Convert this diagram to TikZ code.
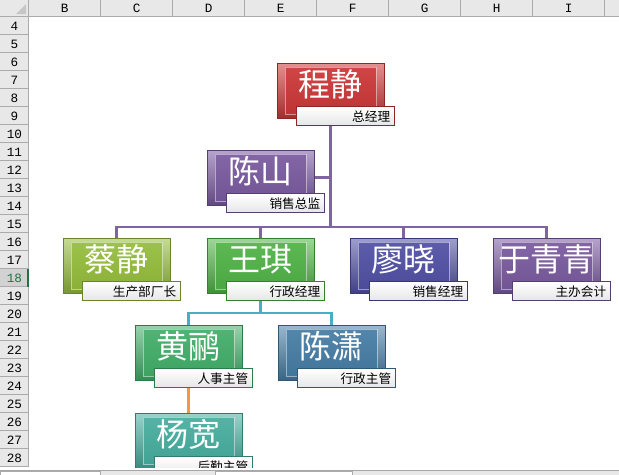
\documentclass[tikz,border=0pt]{standalone}
\usepackage{fontspec}
\newfontfamily\cjk{Noto Sans CJK SC}
\setmonofont{Liberation Mono}
\definecolor{orgred}{RGB}{205,55,55}
\definecolor{orgpurple}{RGB}{122,90,160}
\definecolor{orglime}{RGB}{150,190,60}
\definecolor{orggreen}{RGB}{80,180,70}
\definecolor{orgindigo}{RGB}{80,80,165}
\definecolor{orgemerald}{RGB}{65,175,105}
\definecolor{orgsteel}{RGB}{70,125,165}
\definecolor{orgteal}{RGB}{70,175,160}
\definecolor{linepurple}{RGB}{128,100,162}
\definecolor{linecyan}{RGB}{75,172,198}
\definecolor{lineorange}{RGB}{247,150,70}
\definecolor{xlhead}{RGB}{232,232,232}
\definecolor{xlsel}{RGB}{210,210,210}
\definecolor{xlline}{RGB}{171,171,171}
\definecolor{xlgreen}{RGB}{33,115,70}
\usetikzlibrary{positioning,calc,backgrounds}

\begin{document}
\begin{tikzpicture}[x=0.75pt, y=-0.75pt,
    pbox/.style={draw=#1!70!black, line width=0.6pt, top color=#1!55!white, bottom color=#1!80!black,
        minimum width=80.25pt, minimum height=41.25pt, inner sep=0pt, text=white,
        font=\cjk\fontsize{24}{24}\selectfont, text height=16pt, text depth=7pt,
        path picture={\shade[top color=#1!92!white, bottom color=#1!92!black]
            ([shift={(8,-4)}]path picture bounding box.south west) rectangle
            ([shift={(-8,4)}]path picture bounding box.north east);
          \draw[white, opacity=0.45, line width=0.5pt]
            ([shift={(8,-4)}]path picture bounding box.south west) rectangle
            ([shift={(-8,4)}]path picture bounding box.north east);}},
    ttl/.style={draw=#1!70!black, line width=0.8pt, top color=white, bottom color=black!10,
        minimum width=73.5pt, minimum height=14.25pt, text width=66.5pt, align=right,
        inner xsep=3.5pt, inner ysep=0pt, anchor=north east, font=\cjk\fontsize{9.5}{10}\selectfont},
    conn/.style={draw=#1, line width=2.2pt},
    hdtxt/.style={font=\ttfamily\fontsize{9.5}{10}\selectfont, inner sep=0pt}
]
    \useasboundingbox (0,0) rectangle (619,475);

    \fill[xlhead] (0,0) rectangle (619,16.7);
    \fill[xlhead] (0,16.7) rectangle (28.7,466.7);
    \fill[xlsel] (0,268.7) rectangle (28.7,286.7);
    \fill[gray!45] (16,14) -- (26,14) -- (26,4) -- cycle;
    \foreach \c [count=\i from 0] in {B,C,D,E,F,G,H,I} {
        \node[hdtxt] (col\c) at (64.7+72*\i,8.6) {\c};
        \draw[xlline] (28.7+72*\i,0) -- (28.7+72*\i,16.7);
    }
    \draw[xlline] (604.7,0) -- (604.7,16.7);
    \foreach \r in {4,...,28} {
        \node[hdtxt] (row\r) at (14.5,{25.9+18*(\r-4)}) {\ifnum\r=18 \color{xlgreen}\fi\r};
        \draw[xlline] (0,{34.7+18*(\r-4)}) -- (28.7,{34.7+18*(\r-4)});
    }
    \draw[xlline] (0,16.7) -- (619,16.7);
    \draw[xlline] (28.7,16.7) -- (28.7,466.7);
    \fill[xlgreen] (27,268.7) rectangle (28.7,286.7);

    \node[pbox=orgred] (chengj) at (330.5,90.5) {程静};
    \node[ttl=orgred] (chengjt) at ([shift={(11,-12)}]chengj.south east) {总经理};
    \node[pbox=orgpurple] (chens) at (260.5,177.5) {陈山};
    \node[ttl=orgpurple] (chenst) at ([shift={(11,-12)}]chens.south east) {销售总监};

    \node[pbox=orglime] (caij) at (116.5,265.5) {蔡静};
    \node[ttl=orglime] (caijt) at ([shift={(11,-12)}]caij.south east) {生产部厂长};
    \node[pbox=orggreen] (wangq) at (260.5,265.5) {王琪};
    \node[ttl=orggreen] (wangqt) at ([shift={(11,-12)}]wangq.south east) {行政经理};
    \node[pbox=orgindigo] (liaox) at (403.5,265.5) {廖晓};
    \node[ttl=orgindigo] (liaoxt) at ([shift={(11,-12)}]liaox.south east) {销售经理};
    \node[pbox=orgpurple] (yuqq) at (546.5,265.5) {于青青};
    \node[ttl=orgpurple] (yuqqt) at ([shift={(11,-12)}]yuqq.south east) {主办会计};

    \node[pbox=orgemerald] (huangl) at (188.5,352.5) {黄鹂};
    \node[ttl=orgemerald] (huanglt) at ([shift={(11,-12)}]huangl.south east) {人事主管};
    \node[pbox=orgsteel] (chenx) at (331.5,352.5) {陈潇};
    \node[ttl=orgsteel] (chenxt) at ([shift={(11,-12)}]chenx.south east) {行政主管};

    \node[pbox=orgteal] (yangk) at (188.5,440.5) {杨宽};
    \node[ttl=orgteal] (yangkt) at ([shift={(11,-12)}]yangk.south east) {后勤主管};

    \coordinate (bus1) at (330.5,227);
    \coordinate (bus2) at (260.5,313);
    \begin{scope}[on background layer]
        \draw[conn=linepurple] (chengj) -- (bus1);
        \draw[conn=linepurple] (chens) -- (chens -| bus1);
        \draw[conn=linepurple] (caij) |- (bus1) -| (yuqq);
        \draw[conn=linepurple] (wangq) -- (wangq |- bus1);
        \draw[conn=linepurple] (liaox) -- (liaox |- bus1);
        \draw[conn=linecyan] (wangq) -- (bus2);
        \draw[conn=linecyan] (huangl) |- (bus2) -| (chenx);
        \draw[conn=lineorange] (huangl) -- (yangk);
    \end{scope}

    \fill[white] (0,467.5) rectangle (619,475);
    \fill[xlhead] (0,470) rectangle (619,475);
    \draw[gray!70] (0,470) -- (619,470);
    \draw[xlline, fill=white] (0,471) rectangle (100,476);
    \draw[xlline, fill=white] (215,471) rectangle (352,476);
\end{tikzpicture}
\end{document}
